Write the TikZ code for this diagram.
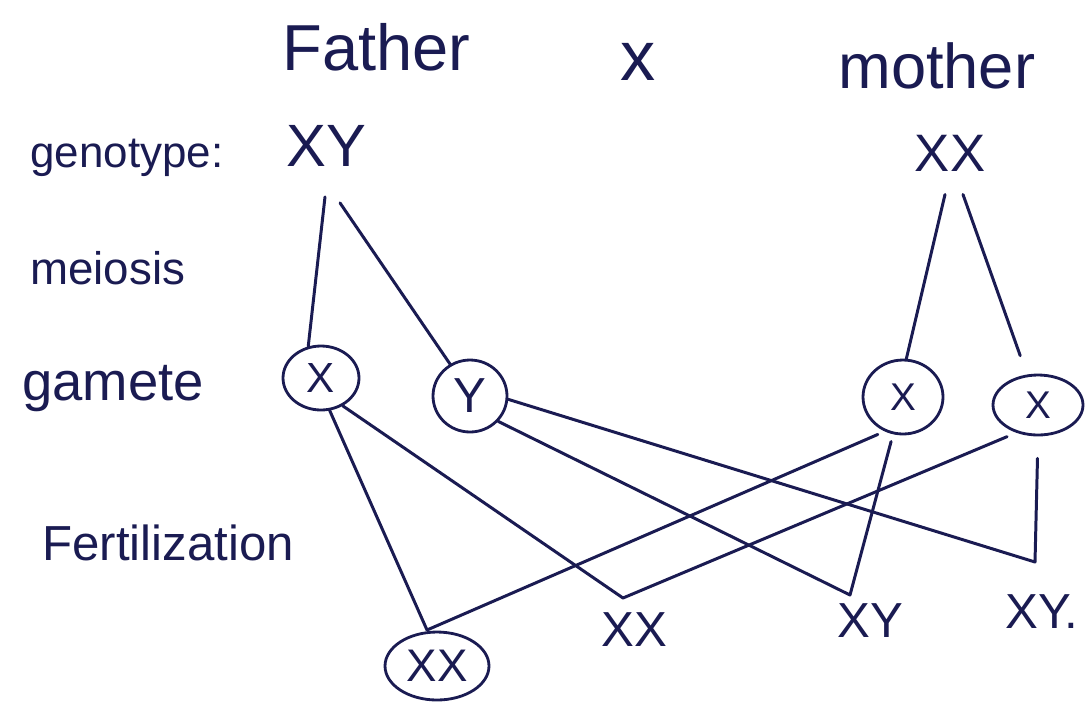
\documentclass[tikz,border=0pt]{standalone}
\usepackage{fontspec}
\setmainfont{Liberation Sans}
\usetikzlibrary{shapes.geometric, calc}
\definecolor{ink}{HTML}{1A1B52}
\tikzset{
  inkline/.style={draw=ink, line width=1.7pt, line cap=round, line join=round},
  handtext/.style={
    text=ink, inner sep=0pt,
    font=\fontsize{#1}{#1}\selectfont
  },
  gamcirc/.style={
    ellipse, draw=ink, line width=1.6pt, inner sep=0pt,
    text=ink, font=\fontsize{22}{22}\selectfont
  },
}

\begin{document}
\begin{tikzpicture}[x=0.02cm, y=-0.02cm]
  \useasboundingbox (0,0) rectangle (1091,711);

  % parents
  \node[handtext=37, anchor=base west] (father) at (282,70) {Father};
  \node[handtext=40] (cross) at (638,62) {x};
  \node[handtext=36, anchor=base west] (mother) at (838,88) {mother};

  % row labels
  \node[handtext=25, anchor=base west] (genolbl) at (30,167) {genotype:};
  \node[handtext=26, anchor=base west] (meiolbl) at (30,284) {meiosis};
  \node[handtext=31, anchor=base west] (gamlbl) at (22,400) {gamete};
  \node[handtext=28, anchor=base west] (fertlbl) at (42,560) {Fertilization};

  % genotypes
  \node[handtext=34] (fgeno) at (326,146) {XY};
  \node[handtext=30] (mgeno) at (950,153) {XX};

  % gametes
  \node[gamcirc, minimum width=1.52cm, minimum height=1.28cm,
        font=\fontsize{24}{24}\selectfont] (gfx) at (321,378) {X};
  \node[gamcirc, minimum width=1.48cm, minimum height=1.44cm,
        font=\fontsize{28}{28}\selectfont] (gfy) at (470,396) {Y};
  \node[gamcirc, minimum width=1.60cm, minimum height=1.48cm] (gmx1) at (903,397) {X};
  \node[gamcirc, minimum width=1.80cm, minimum height=1.20cm] (gmx2) at (1038,405) {X};

  % offspring
  \node[gamcirc, minimum width=2.08cm, minimum height=1.36cm,
        font=\fontsize{26}{26}\selectfont] (off1) at (437,666) {XX};
  \node[handtext=28] (off2) at (634,630) {XX};
  \node[handtext=28] (off3) at (870,621) {XY};
  \node[handtext=28] (off4) at (1042,612) {XY.};

  \coordinate (v1) at (427,630);
  \coordinate (v2) at (623,598);
  \coordinate (v3) at (850,595);
  \coordinate (v4) at (1035,562);

  % meiosis
  \draw[inkline] ($(fgeno.south)+(-1,30)$) -- (gfx.112);
  \draw[inkline] ($(fgeno.south)+(14,36)$) -- (gfy.122);
  \draw[inkline] ($(mgeno.south)+(-5,23)$) -- (gmx1.85);
  \draw[inkline, shorten >=0.4cm] ($(mgeno.south)+(13,23)$) -- (gmx2.110);

  % fertilization
  \draw[inkline, shorten >=0.15cm] (gfx.-75) -- (v1) -- (gmx1.-118);
  \draw[inkline, shorten >=0.2cm] (gfx.-52) -- (v2) -- (gmx2.-128);
  \draw[inkline, shorten >=0.15cm] (gfy.-42) -- (v3) -- (gmx1.-105);
  \draw[inkline, shorten >=0.44cm] (gfy.-5) -- (v4) -- (gmx2.-90);
\end{tikzpicture}
\end{document}
